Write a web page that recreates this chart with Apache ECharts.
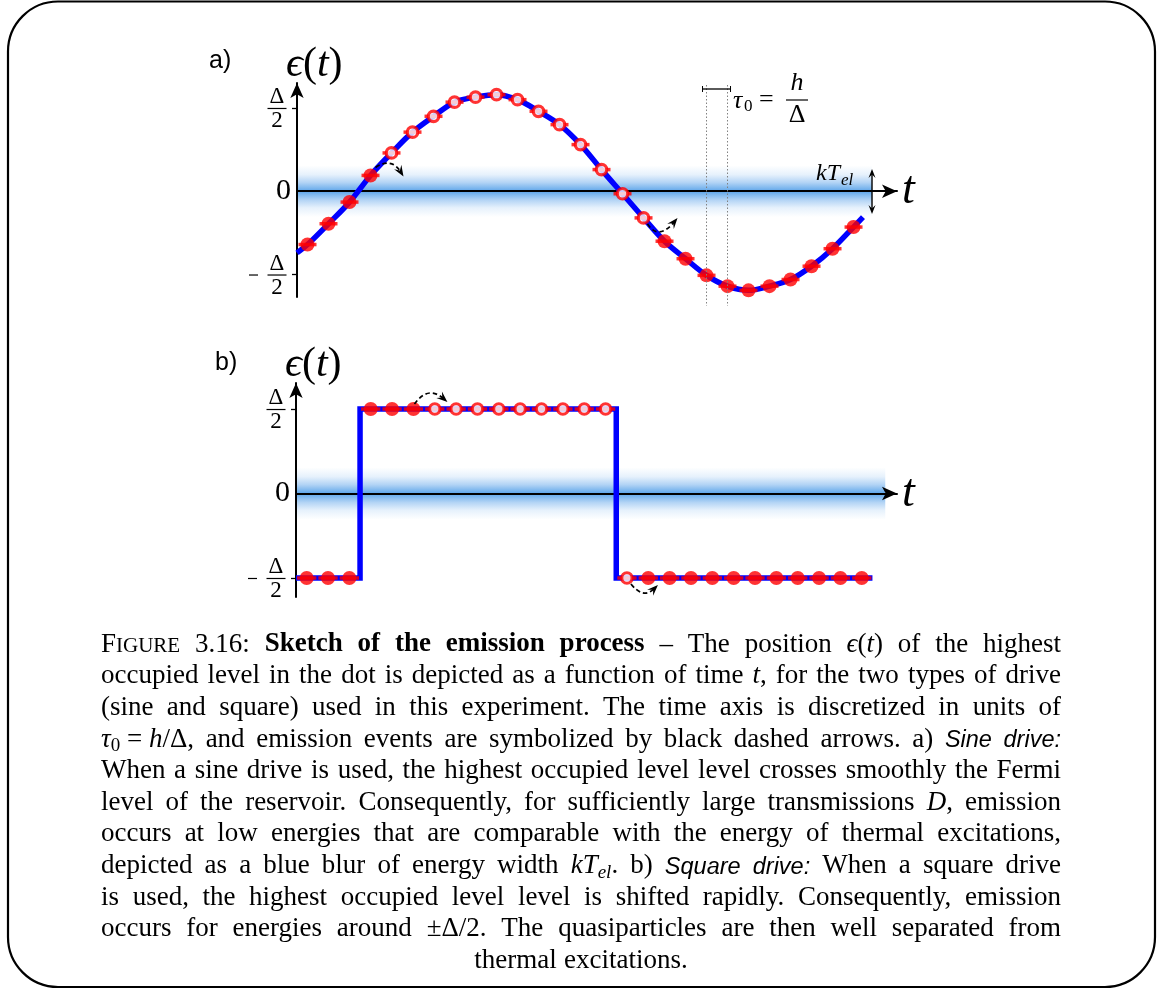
<!DOCTYPE html>
<html><head><meta charset="utf-8">
<script src="https://cdn.jsdelivr.net/npm/echarts@6/dist/echarts.min.js"></script>
<style>html,body{margin:0;padding:0;background:#fff}#c{width:1158px;height:989px}</style>
</head><body><div id="c"></div><script>
// ---------------- data ----------------
// time grid (units of tau0), marker centres
const tA = [0.5,1.5,2.5,3.5,4.5,5.5,6.5,7.5,8.5,9.5,10.5,11.5,12.5,13.5,14.5,15.5,16.5,17.5,18.5,19.5,20.5,21.5,22.5,23.5,24.5,25.5,26.5];
// a) sine drive: level (units of Delta/2) at each tau0 step
const levelA = [-0.64,-0.39,-0.13,0.19,0.46,0.71,0.90,1.07,1.13,1.16,1.10,0.96,0.80,0.56,0.26,-0.03,-0.32,-0.60,-0.81,-1.01,-1.14,-1.19,-1.14,-1.06,-0.90,-0.69,-0.43];
// 1 = occupied (filled), 0 = empty (open)
const occA = [1,1,1,1,0,0,0,0,0,0,0,0,0,0,0,0,0,1,1,1,1,1,1,1,1,1,1];
const driveAStart = [0,-0.74];
const driveAEnd = [26.95,-0.31];
const emitA = [3,16];
// b) square drive
const tB = [0.5,1.5,2.5,3.5,4.5,5.5,6.5,7.5,8.5,9.5,10.5,11.5,12.5,13.5,14.5,15.5,16.5,17.5,18.5,19.5,20.5,21.5,22.5,23.5,24.5,25.5,26.5];
const levelB = [-1,-1,-1,1,1,1,1,1,1,1,1,1,1,1,1,-1,-1,-1,-1,-1,-1,-1,-1,-1,-1,-1,-1];
const occB = [1,1,1,1,1,1,0,0,0,0,0,0,0,0,0,0,1,1,1,1,1,1,1,1,1,1,1];
const stepB = [[0,-1],[3,-1],[3,1],[15,1],[15,-1],[27,-1]];
const emitB = [5,15];
// thermal band (kT_el) half width, in units of Delta/2, and its extent in time
const bandHalf = 0.31;
const bandEndA = 27.38, bandEndB = 27.6;
// y tick values and labels
const yTickVals = [-1, 0, 1];
const tau0Marks = [19.5, 20.5];

const SERIF = 'Liberation Serif';
const chart = echarts.init(document.getElementById('c'));

function bandSeries(ai, xEnd){
  return {type:'custom', xAxisIndex:ai, yAxisIndex:ai, z:-10, silent:true,
    data:[[0, xEnd, -bandHalf, bandHalf]],
    renderItem:(params, api)=>{
      const p0 = api.coord([api.value(0), api.value(3)]);
      const p1 = api.coord([api.value(1), api.value(2)]);
      return {type:'rect', shape:{x:p0[0], y:p0[1], width:p1[0]-p0[0], height:p1[1]-p0[1]},
        style:{fill:new echarts.graphic.LinearGradient(0,0,0,1,[
          {offset:0,color:'rgba(255,255,255,1)'},{offset:0.18,color:'#e6f1fc'},{offset:0.33,color:'#b3d4f5'},
          {offset:0.45,color:'#78b4ed'},{offset:0.5,color:'#5ca4ea'},{offset:0.55,color:'#78b4ed'},
          {offset:0.67,color:'#b3d4f5'},{offset:0.82,color:'#e6f1fc'},{offset:1,color:'rgba(255,255,255,1)'}])}};
    }};
}
function markerSeries(ai, t, lv, occ, dashW){
  const filled=[], open=[], dash=[];
  t.forEach((x,i)=>{ dash.push([x,lv[i]]); (occ[i]?filled:open).push([x,lv[i]]); });
  return [
    {type:'scatter', xAxisIndex:ai, yAxisIndex:ai, z:3, silent:true, data:dash, symbol:'rect', symbolSize:[dashW,3.5], itemStyle:{color:'#ff0000'}},
    {type:'scatter', xAxisIndex:ai, yAxisIndex:ai, z:4, silent:true, data:filled, symbol:'circle', symbolSize:14, itemStyle:{color:'#ff0000'}},
    {type:'scatter', xAxisIndex:ai, yAxisIndex:ai, z:4, silent:true, data:open, symbol:'circle', symbolSize:10.5, itemStyle:{color:'#ffffff', borderColor:'#ff0000', borderWidth:3.2}}
  ];
}
function xAx(gi, max){
  return {gridIndex:gi, type:'value', min:0, max:max,
    axisLine:{onZero:true, lineStyle:{color:'#000', width:2}, symbol:['none','arrow'], symbolSize:[10,15]},
    axisTick:{show:false}, axisLabel:{show:false}, splitLine:{show:false},
    name:'t', nameLocation:'end', nameGap:5,
    nameTextStyle:{fontFamily:SERIF, fontStyle:'italic', fontSize:46, color:'#000', verticalAlign:'middle', padding:[9,0,0,0]}};
}
function yAx(gi, min, max){
  return {gridIndex:gi, type:'value', min:min, max:max,
    axisLine:{lineStyle:{color:'#000', width:2}, symbol:['none','arrow'], symbolSize:[10,15]},
    axisTick:{show:true, customValues:[yTickVals[0], yTickVals[2]], length:5, lineStyle:{color:'#000', width:1.3}},
    axisLabel:{customValues:[yTickVals[1]], formatter:()=> '0', fontFamily:SERIF, fontSize:30, color:'#000', margin:6},
    splitLine:{show:false}};
}
const driveA = [driveAStart].concat(tA.map((x,i)=>[x, levelA[i]])).concat([driveAEnd]);

chart.setOption({
  animation:false,
  backgroundColor:'#fff',
  grid:[{left:297, top:83, width:600, height:214},{left:296, top:383, width:601, height:214}],
  xAxis:[xAx(0, 28.57), xAx(1, 28.15)],
  yAxis:[yAx(0,-1.27,1.3), yAx(1,-1.225,1.308)],
  series:[
    bandSeries(0, bandEndA),
    {type:'line', xAxisIndex:0, yAxisIndex:0, z:2, silent:true, data:driveA, smooth:0.35, showSymbol:false, symbol:'none', lineStyle:{color:'#0000ff', width:5.5}},
    ...markerSeries(0, tA, levelA, occA, 18),
    bandSeries(1, bandEndB),
    {type:'line', xAxisIndex:1, yAxisIndex:1, z:2, silent:true, data:stepB, showSymbol:false, symbol:'none', lineStyle:{color:'#0000ff', width:5.5, join:'miter'}},
    ...markerSeries(1, tB, levelB, occB, 19.3)
  ]
});

// ---------------- overlays ----------------
const G = [];
const px = (gi, p) => chart.convertToPixel({xAxisIndex:gi, yAxisIndex:gi}, p);
function txt(x, y, text, o){
  o = o || {};
  G.push({type:'text', x:x, y:y, silent:true, z:50, style:{text:text, fill:'#000',
    fontFamily:o.ff||SERIF, fontSize:o.fs||24, fontStyle:o.it?'italic':'normal', fontWeight:o.bold?'bold':'normal',
    align:o.al||'left', textAlign:o.al||'left', verticalAlign:'middle', textVerticalAlign:'middle'}});
}
function seg(x1,y1,x2,y2,o){
  o=o||{};
  G.push({type:'line', silent:true, z:50, shape:{x1,y1,x2,y2}, style:{stroke:o.c||'#000', lineWidth:o.w||1.3, lineDash:o.dash||null}});
}
function head(tip, ang, len, wid){
  const ca=Math.cos(ang), sa=Math.sin(ang), nx=-sa, ny=ca;
  const bx=tip[0]-len*ca, by=tip[1]-len*sa;
  const nt=[tip[0]-len*0.62*ca, tip[1]-len*0.62*sa];
  G.push({type:'polygon', silent:true, z:51, shape:{points:[tip,[bx+nx*wid/2,by+ny*wid/2],nt,[bx-nx*wid/2,by-ny*wid/2]]}, style:{fill:'#000'}});
}
function dashedArrow(p, s, c, e){
  const S=[p[0]+s[0],p[1]+s[1]], C=[p[0]+c[0],p[1]+c[1]], E=[p[0]+e[0],p[1]+e[1]];
  const ang=Math.atan2(E[1]-C[1], E[0]-C[0]);
  const E2=[E[0]-5*Math.cos(ang), E[1]-5*Math.sin(ang)];
  G.push({type:'bezierCurve', silent:true, z:50, shape:{x1:S[0],y1:S[1],cpx1:C[0],cpy1:C[1],x2:E2[0],y2:E2[1]}, style:{stroke:'#000', lineWidth:1.7, lineDash:[4.5,3], fill:null}});
  head(E, ang, 11, 8.5);
}
// fraction labels for +-Delta/2
function frac(gi, v){
  const p = px(gi, [0, v]);
  const cx = p[0]-20, cy = p[1];
  txt(cx, cy-11, 'Δ', {fs:23, al:'center'});
  seg(cx-9.5, cy+0.5, cx+9.5, cy+0.5, {w:1.2});
  txt(cx, cy+13, '2', {fs:23, al:'center'});
  if (v < 0) seg(cx-28, cy+0.5, cx-19, cy+0.5, {w:1.2});
}
[0,1].forEach(gi=>{ frac(gi, yTickVals[2]); frac(gi, yTickVals[0]); });

// y axis names eps(t) and panel labels
function epsName(gi){
  const top = px(gi, [0, gi===0?1.3:1.308]);
  G.push({type:'text', x:top[0]-11, y:top[1]-18, silent:true, z:50, style:{text:'{i|ϵ}{r|(}{i|t}{r|)}', align:'left', verticalAlign:'middle',
    rich:{i:{fontFamily:SERIF, fontStyle:'italic', fontSize:42, fill:'#000', color:'#000'}, r:{fontFamily:SERIF, fontSize:42, fill:'#000', color:'#000'}}}});
}
epsName(0); epsName(1);
txt(209, 61, 'a)', {ff:'Liberation Sans', fs:25});
txt(215, 363, 'b)', {ff:'Liberation Sans', fs:25});

// tau0 marks
const d1 = px(0,[tau0Marks[0],0]), d2 = px(0,[tau0Marks[1],0]);
seg(d1[0], 85, d1[0], 306, {c:'#808080', w:1, dash:[1.5,2]});
seg(d2[0], 85, d2[0], 306, {c:'#808080', w:1, dash:[1.5,2]});
seg(d1[0]-4, 89, d2[0]+3, 89, {w:1.3});
seg(d1[0]-4, 86, d1[0]-4, 92, {w:1}); seg(d2[0]+3, 86, d2[0]+3, 92, {w:1});
txt(733, 101, 'τ', {it:true, fs:26});
txt(744, 107, '0', {fs:17});
txt(759, 100, '=', {fs:26});
txt(797, 83, 'h', {it:true, fs:26, al:'center'});
seg(786, 100, 808, 100, {w:1.2});
txt(797, 115, 'Δ', {fs:26, al:'center'});

// kT_el
txt(816, 174, 'kT', {it:true, fs:24});
txt(841, 181, 'el', {it:true, fs:17});
const kx = px(0,[bandEndA,0])[0];
seg(kx, 172, kx, 211, {w:1.4});
head([kx,169], -Math.PI/2, 9, 7); head([kx,214], Math.PI/2, 9, 7);

// emission arrows
const arrA = [{s:[5,-8], c:[21,-18.5], e:[33,1]}, {s:[4,6], c:[15,23], e:[34,0]}];
emitA.forEach((k,j)=>{ const p=px(0,[tA[k],levelA[k]]); dashedArrow(p, arrA[j].s, arrA[j].c, arrA[j].e); });
const arrB = [{s:[1,-5], c:[14.5,-24], e:[34,-7]}, {s:[4,6], c:[16.5,21.5], e:[31,7]}];
emitB.forEach((k,j)=>{ const p=px(1,[tB[k],levelB[k]]); dashedArrow(p, arrB[j].s, arrB[j].c, arrB[j].e); });

// border
G.push({type:'rect', silent:true, z:40, shape:{x:8, y:1.5, width:1147, height:985.5, r:50}, style:{fill:null, stroke:'#000', lineWidth:2.2}});

// ---------------- caption (justified) ----------------
const caption = [
  'F{sc|IGURE} 3.16: {b|Sketch of the emission process} – The position {i|ϵ}({i|t}) of the highest',
  'occupied level in the dot is depicted as a function of time {i|t}, for the two types of drive',
  '(sine and square) used in this experiment. The time axis is discretized in units of',
  '{i|τ}{sub|0}\u00a0=\u00a0{i|h}/Δ, and emission events are symbolized by black dashed arrows. a) {ss|Sine drive:}',
  'When a sine drive is used, the highest occupied level level crosses smoothly the Fermi',
  'level of the reservoir. Consequently, for sufficiently large transmissions {i|D}, emission',
  'occurs at low energies that are comparable with the energy of thermal excitations,',
  'depicted as a blue blur of energy width {i|kT}{subi|el}. b) {ss|Square drive:} When a square drive',
  'is used, the highest occupied level level is shifted rapidly. Consequently, emission',
  'occurs for energies around ±Δ/2. The quasiparticles are then well separated from',
  'thermal excitations.'
];
const STY = {
  r:{ff:SERIF, fs:27, st:'normal', wt:'normal', dy:0},
  b:{ff:SERIF, fs:27, st:'normal', wt:'bold', dy:0},
  i:{ff:SERIF, fs:27, st:'italic', wt:'normal', dy:0},
  sc:{ff:SERIF, fs:21, st:'normal', wt:'normal', dy:2},
  ss:{ff:'Liberation Sans', fs:23.5, st:'italic', wt:'normal', dy:1},
  sub:{ff:SERIF, fs:19, st:'normal', wt:'normal', dy:7},
  subi:{ff:SERIF, fs:19, st:'italic', wt:'normal', dy:7}
};
const mctx = document.createElement('canvas').getContext('2d');
function mw(text, s){ mctx.font = s.st+' '+s.wt+' '+s.fs+'px "'+s.ff+'"'; return mctx.measureText(text).width; }
function parseLine(line){
  const segs=[]; const re=/\{(\w+)\|([^}]*)\}/g; let last=0, m;
  while((m=re.exec(line))){ if(m.index>last) segs.push({s:'r', t:line.slice(last,m.index)}); segs.push({s:m[1], t:m[2]}); last=re.lastIndex; }
  if(last<line.length) segs.push({s:'r', t:line.slice(last)});
  const words=[]; let cur=[];
  segs.forEach(sg=>{
    const parts = sg.t.split(' ');
    parts.forEach((p,pi)=>{
      if(pi>0){ if(cur.length) words.push(cur); cur=[]; }
      if(p.length) cur.push({s:sg.s, t:p.replace(/\u00a0/g,' ')});
    });
  });
  if(cur.length) words.push(cur);
  return words;
}
const capL = 101, capR = 1061, capY0 = 644.5, capDY = 31.65;
caption.forEach((line, li)=>{
  const words = parseLine(line);
  const widths = words.map(w=>w.reduce((a,p)=>a+mw(p.t, STY[p.s]),0));
  const total = widths.reduce((a,b)=>a+b,0);
  const y = capY0 + capDY*li;
  let gap, x;
  if(li === caption.length-1){ gap = mw(' ', STY.r)*1.1; x = (capL+capR)/2 - (total+gap*(words.length-1))/2; }
  else { gap = (capR-capL-total)/(words.length-1); x = capL; }
  words.forEach((w,wi)=>{
    let xx = x;
    w.forEach(p=>{
      const s = STY[p.s];
      G.push({type:'text', x:xx, y:y+s.dy, silent:true, z:50, style:{text:p.t, fill:'#000', fontFamily:s.ff, fontSize:s.fs, fontStyle:s.st, fontWeight:s.wt, align:'left', textAlign:'left', verticalAlign:'middle', textVerticalAlign:'middle'}});
      xx += mw(p.t, s);
    });
    x += widths[wi] + gap;
  });
});

chart.setOption({graphic:{elements:G}});
</script></body></html>
